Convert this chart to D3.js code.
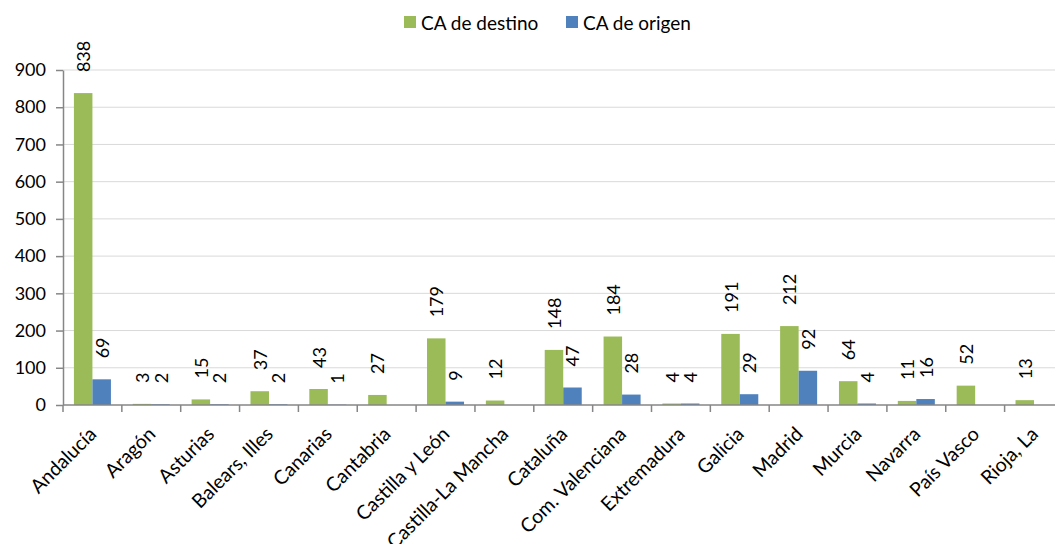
<!DOCTYPE html>
<html>
<head>
<meta charset="utf-8">
<script src="https://cdn.jsdelivr.net/npm/d3@7"></script>
<style>
  body { margin: 0; background: #fff; }
  text { font-family: Lato, "Open Sans", sans-serif; fill: #000; }
</style>
</head>
<body>
<div id="chart"></div>
<script>
var categories = ['Andalucía', 'Aragón', 'Asturias', 'Balears, Illes', 'Canarias', 'Cantabria',
  'Castilla y León', 'Castilla-La Mancha', 'Cataluña', 'Com. Valenciana', 'Extremadura',
  'Galicia', 'Madrid', 'Murcia', 'Navarra', 'País Vasco', 'Rioja, La'];
var destino = [838, 3, 15, 37, 43, 27, 179, 12, 148, 184, 4, 191, 212, 64, 11, 52, 13];
var origen = [69, 2, 2, 2, 1, null, 9, null, 47, 28, 4, 29, 92, 4, 16, null, null];
var seriesNames = ['CA de destino', 'CA de origen'];
var colors = ['#9BBB59', '#4F81BD'];
var yTicks = [0, 100, 200, 300, 400, 500, 600, 700, 800, 900];

var width = 1055, height = 544;
var plotLeft = 63, plotBottom = 405, plotTop = 70;
var bandW = 58.85;

var svg = d3.select('#chart').append('svg')
  .attr('width', width)
  .attr('height', height);

var x = d3.scaleBand()
  .domain(categories)
  .range([plotLeft, plotLeft + bandW * categories.length])
  .paddingInner(0)
  .paddingOuter(0);

// two bars per category, ~18.5px each, centred in the band
var x1 = d3.scaleBand()
  .domain([0, 1])
  .range([0, x.bandwidth()])
  .paddingInner(0)
  .paddingOuter(0.59);

var y = d3.scaleLinear().domain([0, 900]).range([plotBottom, plotTop]);

// gridlines
svg.append('g').selectAll('line')
  .data(yTicks.slice(1))
  .enter().append('line')
  .attr('x1', plotLeft).attr('x2', width)
  .attr('y1', function (d) { return y(d); })
  .attr('y2', function (d) { return y(d); })
  .attr('stroke', '#d9d9d9')
  .attr('stroke-width', 1);

// bars
var rows = categories.map(function (c, i) { return { cat: c, vals: [destino[i], origen[i]] }; });

var groups = svg.append('g').selectAll('g')
  .data(rows)
  .enter().append('g')
  .attr('transform', function (d) { return 'translate(' + x(d.cat) + ',0)'; });

groups.selectAll('rect')
  .data(function (d) { return d.vals.map(function (v, k) { return { v: v, k: k }; }); })
  .enter().filter(function (d) { return d.v != null; })
  .append('rect')
  .attr('x', function (d) { return x1(d.k); })
  .attr('width', x1.bandwidth())
  .attr('y', function (d) { return y(d.v); })
  .attr('height', function (d) { return plotBottom - y(d.v); })
  .attr('fill', function (d) { return colors[d.k]; });

// value labels
groups.selectAll('text')
  .data(function (d) { return d.vals.map(function (v, k) { return { v: v, k: k }; }); })
  .enter().filter(function (d) { return d.v != null; })
  .append('text')
  .attr('transform', function (d) {
    return 'translate(' + (x1(d.k) + x1.bandwidth() / 2) + ',' + (y(d.v) - 21) + ') rotate(-90)';
  })
  .attr('dominant-baseline', 'central')
  .attr('text-anchor', 'start')
  .style('font-size', '18px')
  .text(function (d) { return d.v; });

// y axis
var yAxis = svg.append('g')
  .attr('transform', 'translate(' + plotLeft + ',0)')
  .call(d3.axisLeft(y).tickValues(yTicks).tickSize(7).tickSizeOuter(0).tickPadding(10));
yAxis.select('.domain').attr('stroke', '#868686').attr('stroke-width', 1.5);
yAxis.selectAll('.tick line').attr('stroke', '#868686').attr('stroke-width', 1.5);
yAxis.selectAll('text').style('font-size', '18px').attr('fill', '#000');

// x axis
var xAxis = svg.append('g')
  .attr('transform', 'translate(0,' + plotBottom + ')');
xAxis.append('line')
  .attr('x1', plotLeft).attr('x2', width)
  .attr('stroke', '#868686').attr('stroke-width', 1.5);
xAxis.selectAll('line.tk')
  .data(d3.range(categories.length + 1))
  .enter().append('line')
  .attr('class', 'tk')
  .attr('x1', function (i) { return plotLeft + i * bandW; })
  .attr('x2', function (i) { return plotLeft + i * bandW; })
  .attr('y1', 0).attr('y2', 7)
  .attr('stroke', '#868686').attr('stroke-width', 1.5);
xAxis.selectAll('text')
  .data(categories)
  .enter().append('text')
  .attr('transform', function (d) {
    return 'translate(' + (x(d) + x.bandwidth() / 2) + ',25) rotate(-45)';
  })
  .attr('text-anchor', 'end')
  .attr('dominant-baseline', 'central')
  .style('font-size', '19.5px')
  .text(function (d) { return d; });

// legend
var legend = svg.append('g');
var legendX = [404, 566];
seriesNames.forEach(function (name, k) {
  legend.append('rect')
    .attr('x', legendX[k]).attr('y', 16)
    .attr('width', 12).attr('height', 12)
    .attr('fill', colors[k]);
  legend.append('text')
    .attr('x', legendX[k] + 17).attr('y', 22)
    .attr('dominant-baseline', 'central')
    .style('font-size', '19px')
    .text(name);
});
</script>
</body>
</html>
